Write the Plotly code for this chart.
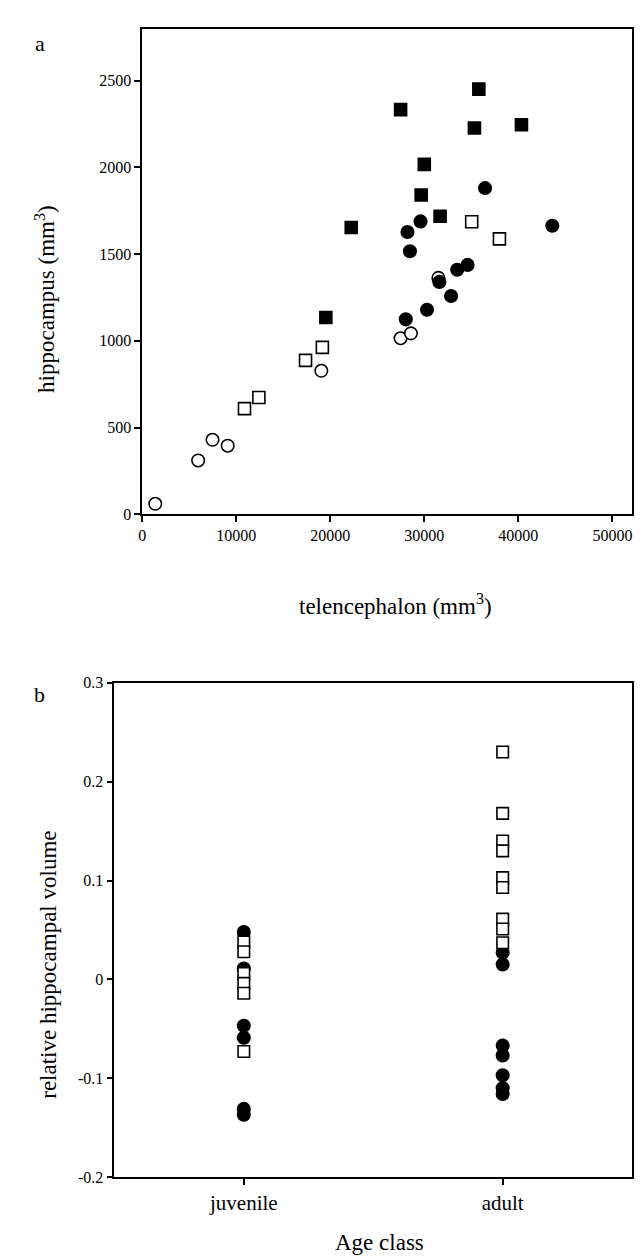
import plotly.graph_objects as go

# ---------------- Panel a data ----------------
tel_filled_sq = [35800, 27480, 35330, 40330, 30000, 29670, 31680, 22230, 19530]
hip_filled_sq = [2452, 2334, 2228, 2247, 2018, 1841, 1719, 1654, 1135]

tel_open_sq = [35040, 37990, 19160, 17370, 12410, 10880]
hip_open_sq = [1687, 1588, 962, 887, 673, 609]

tel_filled_ci = [36460, 29600, 28210, 43610, 28470, 34600, 33500, 31600, 32850, 30290, 28030]
hip_filled_ci = [1881, 1689, 1628, 1664, 1517, 1438, 1410, 1340, 1259, 1179, 1124]

tel_open_ci = [31500, 27480, 28580, 19050, 7480, 9090, 5950, 1390]
hip_open_ci = [1363, 1015, 1043, 827, 429, 395, 310, 60]

x_ticks_a = [0, 10000, 20000, 30000, 40000, 50000]
y_ticks_a = [0, 500, 1000, 1500, 2000, 2500]

# ---------------- Panel b data ----------------
age_classes = ["juvenile", "adult"]
juv_open_sq = [0.038, 0.028, 0.006, -0.004, -0.014, -0.073]
juv_filled_ci = [0.048, 0.011, -0.047, -0.059, -0.131, -0.137]
adult_open_sq = [0.230, 0.168, 0.140, 0.130, 0.103, 0.093, 0.061, 0.051, 0.037]
adult_filled_ci = [0.027, 0.015, -0.067, -0.077, -0.097, -0.110, -0.116]

y_ticks_b = [-0.2, -0.1, 0, 0.1, 0.2, 0.3]
y_ticklabels_b = ["-0.2", "-0.1", "0", "0.1", "0.2", "0.3"]

W, H = 644, 1257
FONT = "Liberation Serif, Times New Roman, serif"

fig = go.Figure()

def mk(symbol, filled, size):
    return dict(symbol=symbol, size=size,
                color="black" if filled else "white",
                line=dict(color="black", width=1.6))

# panel a
fig.add_trace(go.Scatter(x=tel_open_ci, y=hip_open_ci, mode="markers",
                         marker=mk("circle", False, 12.5), xaxis="x", yaxis="y"))
fig.add_trace(go.Scatter(x=tel_filled_ci, y=hip_filled_ci, mode="markers",
                         marker=mk("circle", True, 12.5), xaxis="x", yaxis="y"))
fig.add_trace(go.Scatter(x=tel_open_sq, y=hip_open_sq, mode="markers",
                         marker=mk("square", False, 12), xaxis="x", yaxis="y"))
fig.add_trace(go.Scatter(x=tel_filled_sq, y=hip_filled_sq, mode="markers",
                         marker=mk("square", True, 12), xaxis="x", yaxis="y"))

# panel b
fig.add_trace(go.Scatter(x=[age_classes[0]] * len(juv_filled_ci), y=juv_filled_ci, mode="markers",
                         marker=mk("circle", True, 12.5), xaxis="x2", yaxis="y2"))
fig.add_trace(go.Scatter(x=[age_classes[1]] * len(adult_filled_ci), y=adult_filled_ci, mode="markers",
                         marker=mk("circle", True, 12.5), xaxis="x2", yaxis="y2"))
fig.add_trace(go.Scatter(x=[age_classes[0]] * len(juv_open_sq), y=juv_open_sq, mode="markers",
                         marker=mk("square", False, 11.5), xaxis="x2", yaxis="y2"))
fig.add_trace(go.Scatter(x=[age_classes[1]] * len(adult_open_sq), y=adult_open_sq, mode="markers",
                         marker=mk("square", False, 11.5), xaxis="x2", yaxis="y2"))

def px_x(p):
    return p / W

def px_y(p):
    return 1 - p / H

axis_common = dict(showline=True, linecolor="black", linewidth=1.6, mirror=True,
                   ticks="outside", ticklen=6, tickwidth=1.6, tickcolor="black",
                   showgrid=False, zeroline=False,
                   tickfont=dict(family=FONT, size=16, color="black"))

fig.update_layout(
    width=W, height=H,
    margin=dict(l=0, r=0, t=0, b=0),
    paper_bgcolor="white", plot_bgcolor="white",
    showlegend=False,
    font=dict(family=FONT, color="black"),
    xaxis=dict(domain=[px_x(131), px_x(624)], range=[0, 52100], anchor="y",
               tickvals=x_ticks_a, ticktext=[str(v) for v in x_ticks_a], **axis_common),
    yaxis=dict(domain=[px_y(505), px_y(13)], range=[0, 2800], anchor="x",
               tickvals=y_ticks_a, ticktext=[str(v) for v in y_ticks_a], **axis_common),
    xaxis2=dict(domain=[px_x(103), px_x(624)], range=[-0.5, 1.5], anchor="y2",
                type="category", categoryorder="array", categoryarray=age_classes,
                **{**axis_common, "tickfont": dict(family=FONT, size=21, color="black")}),
    yaxis2=dict(domain=[px_y(1177), px_y(676)], range=[-0.2, 0.3], anchor="x2",
                tickvals=y_ticks_b, ticktext=y_ticklabels_b, **axis_common),
)

ann = [
    dict(text="a", x=px_x(28), y=px_y(28), font=dict(size=22)),
    dict(text="b", x=px_x(28), y=px_y(688), font=dict(size=22)),
    dict(text="hippocampus (mm<sup>3</sup>)", x=px_x(33), y=px_y(287), textangle=-90, font=dict(size=23)),
    dict(text="telencephalon (mm<sup>3</sup>)", x=px_x(386), y=px_y(597), font=dict(size=23)),
    dict(text="relative hippocampal volume", x=px_x(37), y=px_y(962), textangle=-90, font=dict(size=23)),
    dict(text="Age class", x=px_x(370), y=px_y(1243), font=dict(size=23)),
]
for a in ann:
    fig.add_annotation(xref="paper", yref="paper", showarrow=False,
                       xanchor="center", yanchor="middle",
                       **{**a, "font": dict(family=FONT, color="black", **a["font"])})

fig.write_html("out.html")
